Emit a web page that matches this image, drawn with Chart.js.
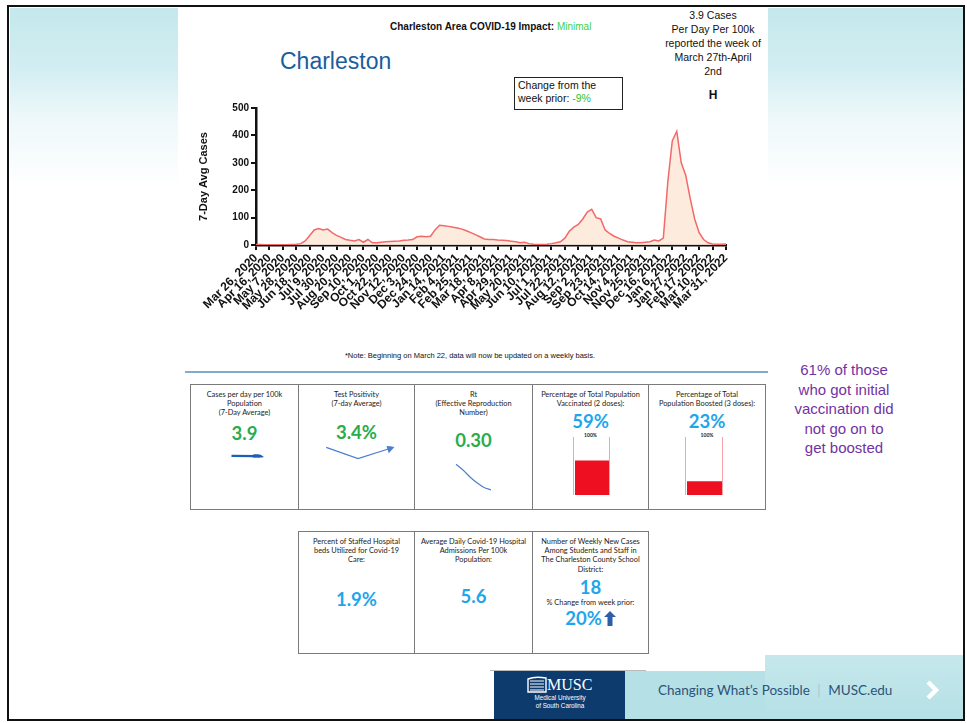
<html>
<head>
<script src="https://cdn.jsdelivr.net/npm/chart.js@4.4.1/dist/chart.umd.min.js"></script>
<style>
  body { margin: 0; background: #fff; font-family: "Liberation Sans", Arial, sans-serif; }
  #slide { position: relative; width: 967px; height: 723px; overflow: hidden; background: #fff; }
  .abs { position: absolute; }
  .box { position: absolute; box-sizing: border-box; border: 1.5px solid #7a7a7a; font-family: Lato, "Open Sans", sans-serif; color: #222; text-align: center; }
  .hdr { position: absolute; left: 0; right: 0; top: 5px; font-size: 7.4px; line-height: 9.2px; }
  .val { position: absolute; left: 0; right: 0; font-weight: bold; font-size: 18.5px; }
  .green { color: #2aac4c; }
  .sky { color: #1ea6ec; }
</style>
</head>
<body>
<div id="slide">
  <!-- background bands -->
  <div class="abs" style="left:10px;top:8px;width:168px;height:178px;background:linear-gradient(#c4e8ec 0%,#d3eef2 35%,#eef8fa 62%,#fff 100%);"></div>
  <div class="abs" style="left:768px;top:8px;width:195px;height:178px;background:linear-gradient(#c4e8ec 0%,#d3eef2 35%,#eef8fa 62%,#fff 100%);"></div>
  <div class="abs" style="left:765px;top:655px;width:198px;height:64px;background:linear-gradient(#c6e8ec,#b4e0e6);"></div>
  <div class="abs" style="left:625px;top:671px;width:140px;height:48px;background:#b5e0e6;"></div>
  <div class="abs" style="left:490px;top:670px;width:156px;height:1px;background:#bbb;"></div>
  <div class="abs" style="left:494px;top:671px;width:131px;height:48px;background:#0d3b6e;"></div>
  <div class="abs" style="left:7px;top:5px;width:958px;height:716px;box-sizing:border-box;border:2.5px solid #111;"></div>

  <!-- header texts -->
  <div class="abs" style="left:390px;top:21px;font-size:10px;font-weight:bold;color:#111;white-space:nowrap;">Charleston Area COVID-19 Impact: <span style="color:#3fcf3f;font-weight:normal;">Minimal</span></div>
  <div class="abs" style="left:280px;top:48px;font-size:23px;color:#1b5d9b;">Charleston</div>
  <div class="abs" style="left:514px;top:77px;width:109px;height:33px;box-sizing:border-box;border:1.5px solid #222;font-size:10.5px;line-height:13px;padding:1px 3px;color:#111;">Change from the<br>week prior: <span style="color:#2fbf2f;">-9%</span></div>
  <div class="abs" style="left:648px;top:8px;width:130px;text-align:center;font-size:10.5px;line-height:14px;color:#111;">3.9 Cases<br>Per Day Per 100k<br>reported the week of<br>March 27th-April<br>2nd</div>
  <div class="abs" style="left:703px;top:88px;width:20px;text-align:center;font-size:12px;font-weight:bold;color:#111;">H</div>

  <!-- main chart -->
  <div class="abs" style="left:190px;top:100px;width:555px;height:230px;"><canvas id="mainChart"></canvas></div>

  <div class="abs" style="left:190px;top:351px;width:560px;text-align:center;font-size:7.5px;color:#111;">*Note: Beginning on March 22, data will now be updated on a weekly basis.</div>
  <div class="abs" style="left:185px;top:371px;width:583px;height:2px;background:#86a9cf;"></div>

  <!-- row 1 panels -->
  <div class="box" style="left:190px;top:384px;width:109px;height:126px;">
    <div class="hdr">Cases per day per 100k<br>Population<br>(7-Day Average)</div>
    <div class="val green" style="top:37px;">3.9</div>
  </div>
  <div class="box" style="left:298px;top:384px;width:117px;height:126px;">
    <div class="hdr">Test Positivity<br>(7-day Average)</div>
    <div class="val green" style="top:36px;">3.4%</div>
  </div>
  <div class="box" style="left:414px;top:384px;width:119px;height:126px;">
    <div class="hdr">Rt<br>(Effective Reproduction<br>Number)</div>
    <div class="val green" style="top:44px;">0.30</div>
  </div>
  <div class="box" style="left:532px;top:384px;width:117px;height:126px;">
    <div class="hdr">Percentage of Total Population<br>Vaccinated (2 doses):</div>
    <div class="val sky" style="top:25px;">59%</div>
    <div class="abs" style="left:0;right:0;top:47px;font-size:5px;font-weight:bold;">100%</div>
  </div>
  <div class="box" style="left:648px;top:384px;width:118px;height:126px;">
    <div class="hdr">Percentage of Total<br>Population Boosted (3 doses):</div>
    <div class="val sky" style="top:25px;">23%</div>
    <div class="abs" style="left:0;right:0;top:47px;font-size:5px;font-weight:bold;">100%</div>
  </div>

  <!-- row 2 panels -->
  <div class="box" style="left:298px;top:531px;width:117px;height:123px;">
    <div class="hdr">Percent of Staffed Hospital<br>beds Utilized for Covid-19<br>Care:</div>
    <div class="val sky" style="top:56px;">1.9%</div>
  </div>
  <div class="box" style="left:414px;top:531px;width:119px;height:123px;">
    <div class="hdr">Average Daily Covid-19 Hospital<br>Admissions Per 100k<br>Population:</div>
    <div class="val sky" style="top:53px;">5.6</div>
  </div>
  <div class="box" style="left:532px;top:531px;width:117px;height:123px;">
    <div class="hdr">Number of Weekly New Cases<br>Among Students and Staff in<br>The Charleston County School<br>District:</div>
    <div class="val sky" style="top:44px;">18</div>
    <div class="abs" style="left:0;right:0;top:66px;font-size:7.4px;">% Change from week prior:</div>
    <div class="val sky" style="top:75px;">20%<svg width="12" height="15" viewBox="0 0 12 15" style="vertical-align:-1px;margin-left:2px;"><polygon points="6,0 12,6 8.5,6 8.5,15 3.5,15 3.5,6 0,6" fill="#2e5ea8"/></svg></div>
  </div>

  <!-- sparklines and gauges -->
  <div class="abs" style="left:224px;top:447px;width:40px;height:18px;"><canvas id="casesSpark"></canvas></div>
  <div class="abs" style="left:321px;top:441px;width:74px;height:24px;"><canvas id="posSpark"></canvas></div>
  <div class="abs" style="left:454px;top:460px;width:42px;height:34px;"><canvas id="rtSpark"></canvas></div>

  <div class="abs" style="left:573px;top:437px;width:37px;height:58px;box-sizing:border-box;border-left:1.5px solid #f5a3aa;border-right:1.5px solid #f5a3aa;"></div>
  <div class="abs" style="left:575px;top:437px;width:34px;height:58px;"><canvas id="vaxGauge"></canvas></div>
  <div class="abs" style="left:685px;top:437px;width:38px;height:58px;box-sizing:border-box;border-left:1.5px solid #f5a3aa;border-right:1.5px solid #f5a3aa;"></div>
  <div class="abs" style="left:687px;top:437px;width:35px;height:58px;"><canvas id="boostGauge"></canvas></div>

  <div class="abs" style="left:775px;top:360px;width:138px;text-align:center;font-size:15px;line-height:19.5px;color:#7232a4;">61% of those<br>who got initial<br>vaccination did<br>not go on to<br>get boosted</div>

  <!-- footer -->
  <svg class="abs" style="left:527px;top:676px;" width="20" height="17" viewBox="0 0 20 17">
    <path d="M1 16 L1 3 Q8 0 19 2 L19 16 Z" fill="none" stroke="#fff" stroke-width="1.4"/>
    <path d="M3 5 H17 M3 8 H17 M3 11 H17 M3 14 H17" stroke="#fff" stroke-width="1"/>
  </svg>
  <div class="abs" style="left:547px;top:677px;font-family:'Liberation Serif',serif;font-size:16px;color:#fff;line-height:16px;">MUSC</div>
  <div class="abs" style="left:514px;top:694px;width:92px;text-align:center;font-size:6.3px;line-height:7.5px;color:#fff;">Medical University<br>of South Carolina</div>
  <div class="abs" style="left:658px;top:682px;font-family:Lato,sans-serif;font-size:13.5px;color:#2c5478;white-space:nowrap;">Changing What’s Possible <span style="color:#a9c9d6;margin:0 4px;">|</span> MUSC.edu</div>
  <svg class="abs" style="left:924px;top:680px;" width="16" height="20" viewBox="0 0 16 20">
    <polyline points="4,2 12,10 4,18" fill="none" stroke="#fff" stroke-width="4.5"/>
  </svg>
</div>

<script>
// x tick labels, one every 3 weeks
const tickLabels = ["Mar 26, 2020", "Apr 16, 2020", "May 7, 2020", "May 28, 2020", "Jun 18, 2020", "Jul 9, 2020",
  "Jul 30, 2020", "Aug 20, 2020", "Sep 10, 2020", "Oct 1, 2020", "Oct 22, 2020", "Nov 12, 2020",
  "Dec 3, 2020", "Dec 24, 2020", "Jan 14, 2021", "Feb 4, 2021", "Feb 25, 2021", "Mar 18, 2021",
  "Apr 8, 2021", "Apr 29, 2021", "May 20, 2021", "Jun 10, 2021", "Jul 1, 2021", "Jul 22, 2021",
  "Aug 12, 2021", "Sep 2, 2021", "Sep 23, 2021", "Oct 14, 2021", "Nov 4, 2021", "Nov 25, 2021",
  "Dec 16, 2021", "Jan 6, 2022", "Jan 27, 2022", "Feb 17, 2022", "Mar 10, 2022", "Mar 31, 2022"];

// 7-day average cases, weekly from Mar 26, 2020 (week 0) to Mar 31, 2022 (week 105)
const weeklyCases = [
  2, 2, 1, 1, 1, 1, 1, 1, 2, 3,
  5, 15, 35, 55, 60, 55, 58, 45, 35, 28,
  20, 17, 15, 20, 10, 20, 8, 8, 10, 12,
  13, 14, 15, 17, 18, 20, 30, 32, 30, 32,
  55, 72, 70, 68, 65, 62, 58, 52, 45, 38,
  30, 22, 20, 20, 18, 17, 16, 14, 12, 8,
  10, 5, 3, 2, 2, 3, 5, 8, 12, 25,
  50, 65, 75, 95, 120, 130, 100, 95, 55, 42,
  32, 25, 18, 12, 10, 8, 8, 10, 12, 18,
  15, 25, 230, 380, 415, 300, 255, 170, 95, 45,
  20, 8, 4, 3, 3, 4];
const yTicks = [0, 100, 200, 300, 400, 500];

// panel mini charts
const casesTrend = [3.3, 3.0];
const positivityTrend = [3.65, 3.15, 3.6];
const rtTrend = [0.52, 0.47, 0.41, 0.36, 0.32, 0.30];
const vaccinatedPct = [59];
const boostedPct = [23];

Chart.defaults.font.family = '"Liberation Sans", Arial, sans-serif';
Chart.defaults.animation = false;

new Chart(document.getElementById('mainChart'), {
  type: 'line',
  data: {
    datasets: [{
      data: weeklyCases.map((v, i) => ({ x: i, y: v })),
      borderColor: '#f36868',
      borderWidth: 1.5,
      backgroundColor: 'rgba(253,233,218,0.9)',
      fill: 'origin',
      pointRadius: 0,
      tension: 0
    }]
  },
  options: {
    responsive: true,
    maintainAspectRatio: false,
    layout: { padding: { top: 7, right: 19, left: 0, bottom: 0 } },
    plugins: { legend: { display: false }, tooltip: { enabled: false } },
    scales: {
      x: {
        type: 'linear', min: 0, max: 105,
        afterFit: s => { s.height = 85; },
        ticks: {
          stepSize: 3, autoSkip: false, maxRotation: 45, minRotation: 45, padding: 1,
          color: '#111', font: { size: 12, weight: 'bold' },
          callback: v => tickLabels[Math.round(v / 3)]
        },
        grid: { drawOnChartArea: false, drawTicks: true, tickLength: 5, color: '#111', lineWidth: 2 },
        border: { color: '#111', width: 2.5 }
      },
      y: {
        min: 0, max: 500,
        afterFit: s => { s.width = 66; },
        afterBuildTicks: s => { s.ticks = yTicks.map(v => ({ value: v })); },
        ticks: { color: '#111', font: { size: 10, weight: 'bold' }, padding: 2 },
        grid: { drawOnChartArea: false, drawTicks: true, tickLength: 5, color: '#111', lineWidth: 2 },
        border: { color: '#111', width: 2.5 },
        title: { display: true, text: '7-Day Avg Cases', color: '#111', font: { size: 11, weight: 'bold' }, padding: { top: 7, bottom: 0 } }
      }
    }
  }
});

function spark(id, values, color, width, yMin, yMax, arrowRot, curve) {
  const last = values.length - 1;
  new Chart(document.getElementById(id), {
    type: 'line',
    data: {
      labels: values.map((v, i) => i),
      datasets: [{
        data: values, borderColor: color, borderWidth: width, tension: curve,
        pointRadius: values.map((v, i) => (arrowRot !== null && i === last) ? width + 2.5 : 0),
        pointStyle: 'triangle', pointRotation: arrowRot || 0,
        pointBackgroundColor: color, pointBorderColor: color
      }]
    },
    options: {
      responsive: true, maintainAspectRatio: false,
      layout: { padding: { left: 2, right: 5, top: 3, bottom: 3 } },
      plugins: { legend: { display: false }, tooltip: { enabled: false } },
      scales: { x: { display: false }, y: { display: false, min: yMin, max: yMax } }
    }
  });
}
spark('casesSpark', casesTrend, '#1f5fb8', 2.5, 2.5, 3.8, 95, 0);
spark('posSpark', positivityTrend, '#4a7fd0', 1.2, 3.1, 3.7, 72, 0);
spark('rtSpark', rtTrend, '#4a80d2', 1.2, 0.29, 0.53, null, 0.3);

function gauge(id, values) {
  new Chart(document.getElementById(id), {
    type: 'bar',
    data: { labels: [''], datasets: [{ data: values, backgroundColor: '#ee1020', barPercentage: 1, categoryPercentage: 1 }] },
    options: {
      responsive: true, maintainAspectRatio: false,
      plugins: { legend: { display: false }, tooltip: { enabled: false } },
      scales: { x: { display: false }, y: { display: false, min: 0, max: 100 } }
    }
  });
}
gauge('vaxGauge', vaccinatedPct);
gauge('boostGauge', boostedPct);
</script>
</body>
</html>
